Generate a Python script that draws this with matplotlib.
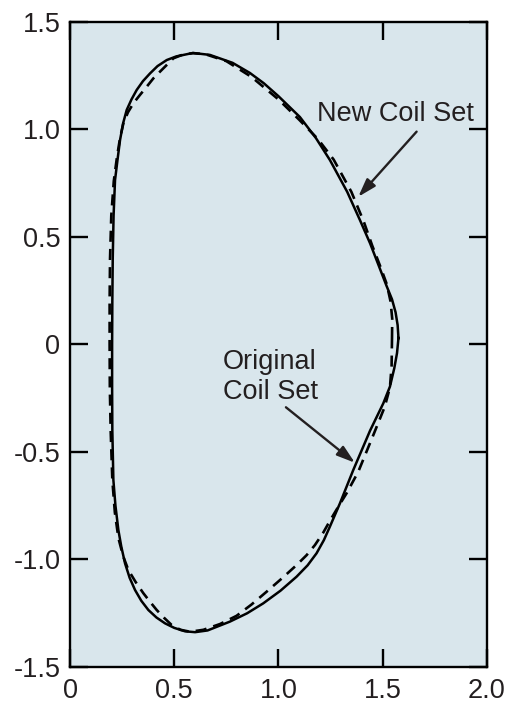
import matplotlib.pyplot as plt

# plasma boundary traced with the new coil set (solid) and the original coil set (dashed)
new_r = [1.576, 1.572, 1.562, 1.545, 1.519, 1.48, 1.44, 1.391, 1.33, 1.247, 1.18, 1.103, 1.0,
         0.93, 0.863, 0.78, 0.671, 0.59, 0.51, 0.464, 0.42, 0.384, 0.35, 0.32, 0.295,
         0.272, 0.255, 0.24, 0.228, 0.216, 0.209, 0.205, 0.203, 0.202, 0.202, 0.203, 0.208,
         0.218, 0.232, 0.246, 0.264, 0.286, 0.312, 0.342, 0.376, 0.415, 0.456, 0.50, 0.552,
         0.60, 0.66, 0.767, 0.85, 0.927, 1.01, 1.087, 1.14, 1.183, 1.218, 1.247, 1.295,
         1.359, 1.44, 1.503, 1.535, 1.556, 1.569, 1.576]
new_z = [0.03, 0.09, 0.15, 0.21, 0.272, 0.37, 0.47, 0.579, 0.71, 0.858, 0.96, 1.058, 1.155,
         1.215, 1.263, 1.31, 1.347, 1.356, 1.34, 1.323, 1.295, 1.261, 1.225, 1.184, 1.14,
         1.091, 1.03, 0.951, 0.86, 0.765, 0.6, 0.4, 0.2, 0.0, -0.2, -0.4, -0.63,
         -0.75, -0.863, -0.94, -1.018, -1.085, -1.142, -1.192, -1.235, -1.27, -1.297, -1.318, -1.334,
         -1.338, -1.33, -1.289, -1.25, -1.204, -1.145, -1.08, -1.027, -0.971, -0.91, -0.847, -0.739,
         -0.584, -0.40, -0.274, -0.196, -0.11, -0.04, 0.03]

orig_r = [1.545, 1.546, 1.538, 1.52, 1.49, 1.45, 1.41, 1.35, 1.265, 1.19, 1.10, 1.0,
          0.87, 0.75, 0.65, 0.59, 0.54, 0.496, 0.44, 0.40, 0.368, 0.335, 0.304, 0.278,
          0.256, 0.24, 0.225, 0.21, 0.198, 0.192, 0.19, 0.19, 0.191, 0.195, 0.203, 0.215,
          0.232, 0.255, 0.280, 0.315, 0.352, 0.385, 0.416, 0.45, 0.488, 0.53, 0.576, 0.64,
          0.72, 0.799, 0.87, 0.943, 1.02, 1.087, 1.135, 1.175, 1.215, 1.25, 1.29, 1.327,
          1.383, 1.46, 1.51, 1.535, 1.543, 1.545]
orig_z = [0.03, 0.12, 0.20, 0.28, 0.36, 0.46, 0.57, 0.71, 0.86, 0.955, 1.045, 1.14,
          1.245, 1.318, 1.35, 1.355, 1.348, 1.331, 1.277, 1.238, 1.199, 1.16, 1.122, 1.08,
          1.029, 0.96, 0.87, 0.76, 0.6, 0.4, 0.2, 0.0, -0.2, -0.4, -0.63, -0.78,
          -0.90, -0.985, -1.049, -1.105, -1.157, -1.198, -1.235, -1.27, -1.305, -1.327, -1.336, -1.327,
          -1.30, -1.262, -1.21, -1.15, -1.085, -1.026, -0.98, -0.933, -0.875, -0.815, -0.75, -0.692,
          -0.592, -0.41, -0.29, -0.20, -0.10, 0.03]

xticks = [0, 0.5, 1.0, 1.5, 2.0]
xlabels = ["0", "0.5", "1.0", "1.5", "2.0"]
yticks = [-1.5, -1.0, -0.5, 0, 0.5, 1.0, 1.5]
ylabels = ["-1.5", "-1.0", "-0.5", "0", "0.5", "1.0", "1.5"]

ink = "#231f20"
plt.rcParams['font.family'] = ['Liberation Sans', 'DejaVu Sans']

fig = plt.figure(figsize=(5.13, 7.05), dpi=100)
ax = fig.add_axes([0.1365, 0.0539, 0.949 - 0.1365, 0.9688 - 0.0539])
ax.set_facecolor("#d9e6ec")

ax.plot(new_r, new_z, color="k", lw=1.8, solid_joinstyle="round")
ax.plot(orig_r, orig_z, color="k", lw=1.9, dashes=(4.2, 2.7))

ax.set_xlim(0, 2.0)
ax.set_ylim(-1.5, 1.5)
ax.set_xticks(xticks)
ax.set_xticklabels(xlabels)
ax.set_yticks(yticks)
ax.set_yticklabels(ylabels)
ax.tick_params(direction="in", length=13, width=1.7, top=True, right=True,
               labelsize=19.5, labelcolor=ink, color="k")
ax.tick_params(axis="y", pad=7)
ax.tick_params(axis="x", pad=8)
for s in ax.spines.values():
    s.set_linewidth(1.7)

# labels with arrows
arrow = dict(arrowstyle="-|>,head_length=1.1,head_width=0.35",
             color=ink, lw=1.7, shrinkA=0, shrinkB=0)
ax.text(1.185, 1.041, "New Coil Set", fontsize=19.5, color=ink, ha="left", va="baseline")
ax.annotate("", xy=(1.383, 0.687), xytext=(1.663, 0.990), arrowprops=arrow)
ax.text(0.734, -0.149, "Original\nCoil Set", fontsize=19.5, color=ink,
        ha="left", va="center", linespacing=1.2)
ax.annotate("", xy=(1.367, -0.550), xytext=(1.036, -0.292), arrowprops=arrow)

fig.savefig("out.png", dpi=100)
